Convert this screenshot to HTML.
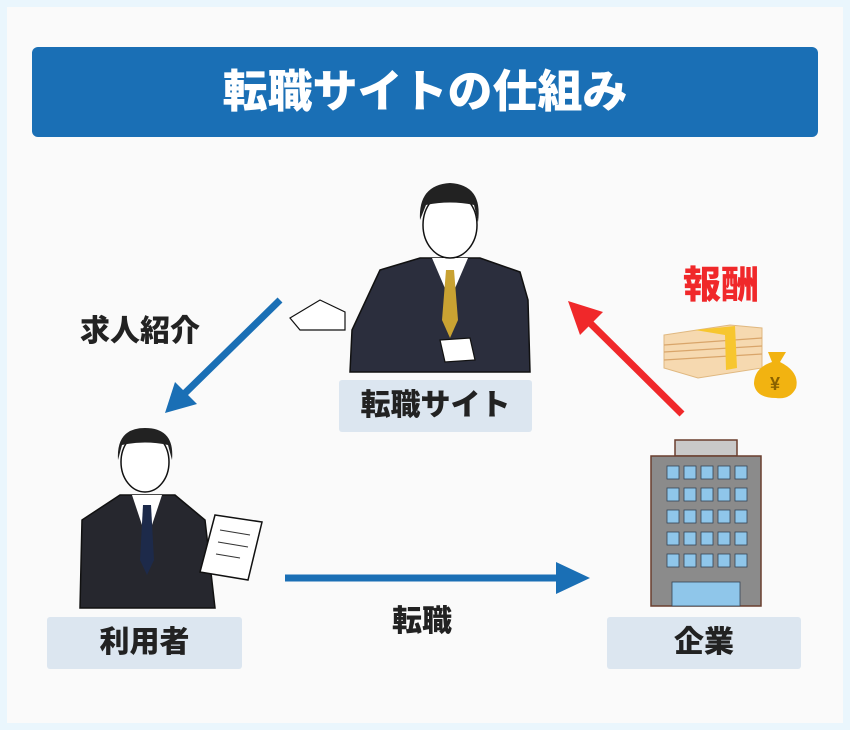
<!DOCTYPE html>
<html><head><meta charset="utf-8"><style>
html,body{margin:0;padding:0}
body{width:850px;height:730px;background:#eaf6fd;position:relative;overflow:hidden;font-family:"Liberation Sans","Noto Sans CJK JP",sans-serif}
.inner{position:absolute;left:7px;top:7px;width:836px;height:716px;background:#fafafa}
.title{position:absolute;left:32px;top:47px;width:786px;height:90px;background:#1a6fb5;border-radius:6px;color:#fff;font-weight:900;font-size:45px;text-align:center;line-height:90px}
.lbl{position:absolute;background:#dce6f0;border-radius:3px;color:#222;font-weight:900;font-size:30px;text-align:center;line-height:52px;height:52px}
.t{position:absolute;font-weight:900;color:#222;font-size:30px;line-height:36px}
svg{position:absolute;left:0;top:0}
</style></head><body>
<div class="inner"></div>
<div class="title">転職サイトの仕組み</div>
<svg width="850" height="730">
<line x1="280" y1="300" x2="180" y2="398" stroke="#1a6fb5" stroke-width="7"/>
<polygon points="165,413 175,382 197,404" fill="#1a6fb5"/>
<line x1="285" y1="578" x2="560" y2="578" stroke="#1a6fb5" stroke-width="7"/>
<polygon points="590,578 556,562 556,594" fill="#1a6fb5"/>
<line x1="682" y1="414" x2="585" y2="318" stroke="#f0282a" stroke-width="7"/>
<polygon points="568,301 603,312 580,335" fill="#f0282a"/>
<path d="M352 330 L380 270 L420 258 L480 258 L520 272 L528 300 L530 372 L350 372 Z" fill="#2b2e3d" stroke="#111" stroke-width="1.5"/>
<path d="M432 258 L450 300 L468 258 Z" fill="#fff"/>
<path d="M446 270 L454 270 L458 320 L450 338 L442 320 Z" fill="#c9a232"/>
<ellipse cx="450" cy="225" rx="27" ry="33" fill="#fff" stroke="#111" stroke-width="1.5"/>
<path d="M420 220 Q418 185 450 183 Q483 185 478 222 L474 205 Q450 200 426 205 Z" fill="#222"/>
<path d="M290 318 L320 300 L345 312 L345 330 L300 330 Z" fill="#fff" stroke="#111" stroke-width="1.2"/>
<path d="M440 340 L470 338 L475 360 L445 362 Z" fill="#fff" stroke="#111" stroke-width="1.2"/>
<path d="M82 520 L120 495 L175 495 L205 520 L215 608 L80 608 Z" fill="#26272e" stroke="#111" stroke-width="1.5"/>
<path d="M132 495 L147 540 L162 495 Z" fill="#fff"/>
<path d="M143 505 L151 505 L154 560 L147 575 L140 560 Z" fill="#1d2a4a"/>
<ellipse cx="145" cy="462" rx="24" ry="30" fill="#fff" stroke="#111" stroke-width="1.5"/>
<path d="M118 460 Q116 428 145 428 Q175 428 172 460 L168 445 Q145 440 122 445 Z" fill="#222"/>
<polygon points="215,515 262,522 248,580 200,572" fill="#fff" stroke="#111" stroke-width="1.5"/>
<line x1="220" y1="530" x2="250" y2="535" stroke="#333"/><line x1="218" y1="542" x2="248" y2="547" stroke="#333"/><line x1="216" y1="554" x2="240" y2="558" stroke="#333"/>
<rect x="675" y="440" width="62" height="16" fill="#c9c9c9" stroke="#6a3e2e" stroke-width="1.5"/>
<rect x="651" y="456" width="110" height="150" fill="#8b8b8b" stroke="#6a3e2e" stroke-width="1.5"/>
<g fill="#8fc6ea" stroke="#345" stroke-width="0.8">
<rect x="667" y="466" width="12" height="13"/><rect x="684" y="466" width="12" height="13"/><rect x="701" y="466" width="12" height="13"/><rect x="718" y="466" width="12" height="13"/><rect x="735" y="466" width="12" height="13"/>
<rect x="667" y="488" width="12" height="13"/><rect x="684" y="488" width="12" height="13"/><rect x="701" y="488" width="12" height="13"/><rect x="718" y="488" width="12" height="13"/><rect x="735" y="488" width="12" height="13"/>
<rect x="667" y="510" width="12" height="13"/><rect x="684" y="510" width="12" height="13"/><rect x="701" y="510" width="12" height="13"/><rect x="718" y="510" width="12" height="13"/><rect x="735" y="510" width="12" height="13"/>
<rect x="667" y="532" width="12" height="13"/><rect x="684" y="532" width="12" height="13"/><rect x="701" y="532" width="12" height="13"/><rect x="718" y="532" width="12" height="13"/><rect x="735" y="532" width="12" height="13"/>
<rect x="667" y="554" width="12" height="13"/><rect x="684" y="554" width="12" height="13"/><rect x="701" y="554" width="12" height="13"/><rect x="718" y="554" width="12" height="13"/><rect x="735" y="554" width="12" height="13"/>
<rect x="672" y="582" width="68" height="24"/>
</g>
<polygon points="664,335 730,325 762,328 762,368 698,378 664,368" fill="#f6d9b0" stroke="#e0b880"/>
<g stroke="#d9a56a" stroke-width="1.2"><line x1="664" y1="345" x2="762" y2="338"/><line x1="664" y1="352" x2="762" y2="346"/><line x1="664" y1="360" x2="762" y2="354"/></g>
<polygon points="695,330 735,326 737,368 726,370 725,335" fill="#f7c62f"/>
<path d="M768 352 L786 352 L780 362 Q800 372 796 388 Q790 400 776 398 Q756 398 754 384 Q754 368 772 362 Z" fill="#f2b311"/>
<text x="775" y="390" font-size="18" fill="#8a6200" text-anchor="middle" font-weight="bold" font-family="Liberation Sans, sans-serif">¥</text>
</svg>
<div class="t" style="left:80px;top:314px">求人紹介</div>
<div class="t" style="left:392px;top:604px">転職</div>
<div class="t" style="left:683px;top:266px;color:#f0282a;font-size:38px;line-height:40px">報酬</div>
<div class="lbl" style="left:339px;top:380px;width:193px">転職サイト</div>
<div class="lbl" style="left:47px;top:617px;width:195px">利用者</div>
<div class="lbl" style="left:607px;top:617px;width:194px">企業</div>
</body></html>
